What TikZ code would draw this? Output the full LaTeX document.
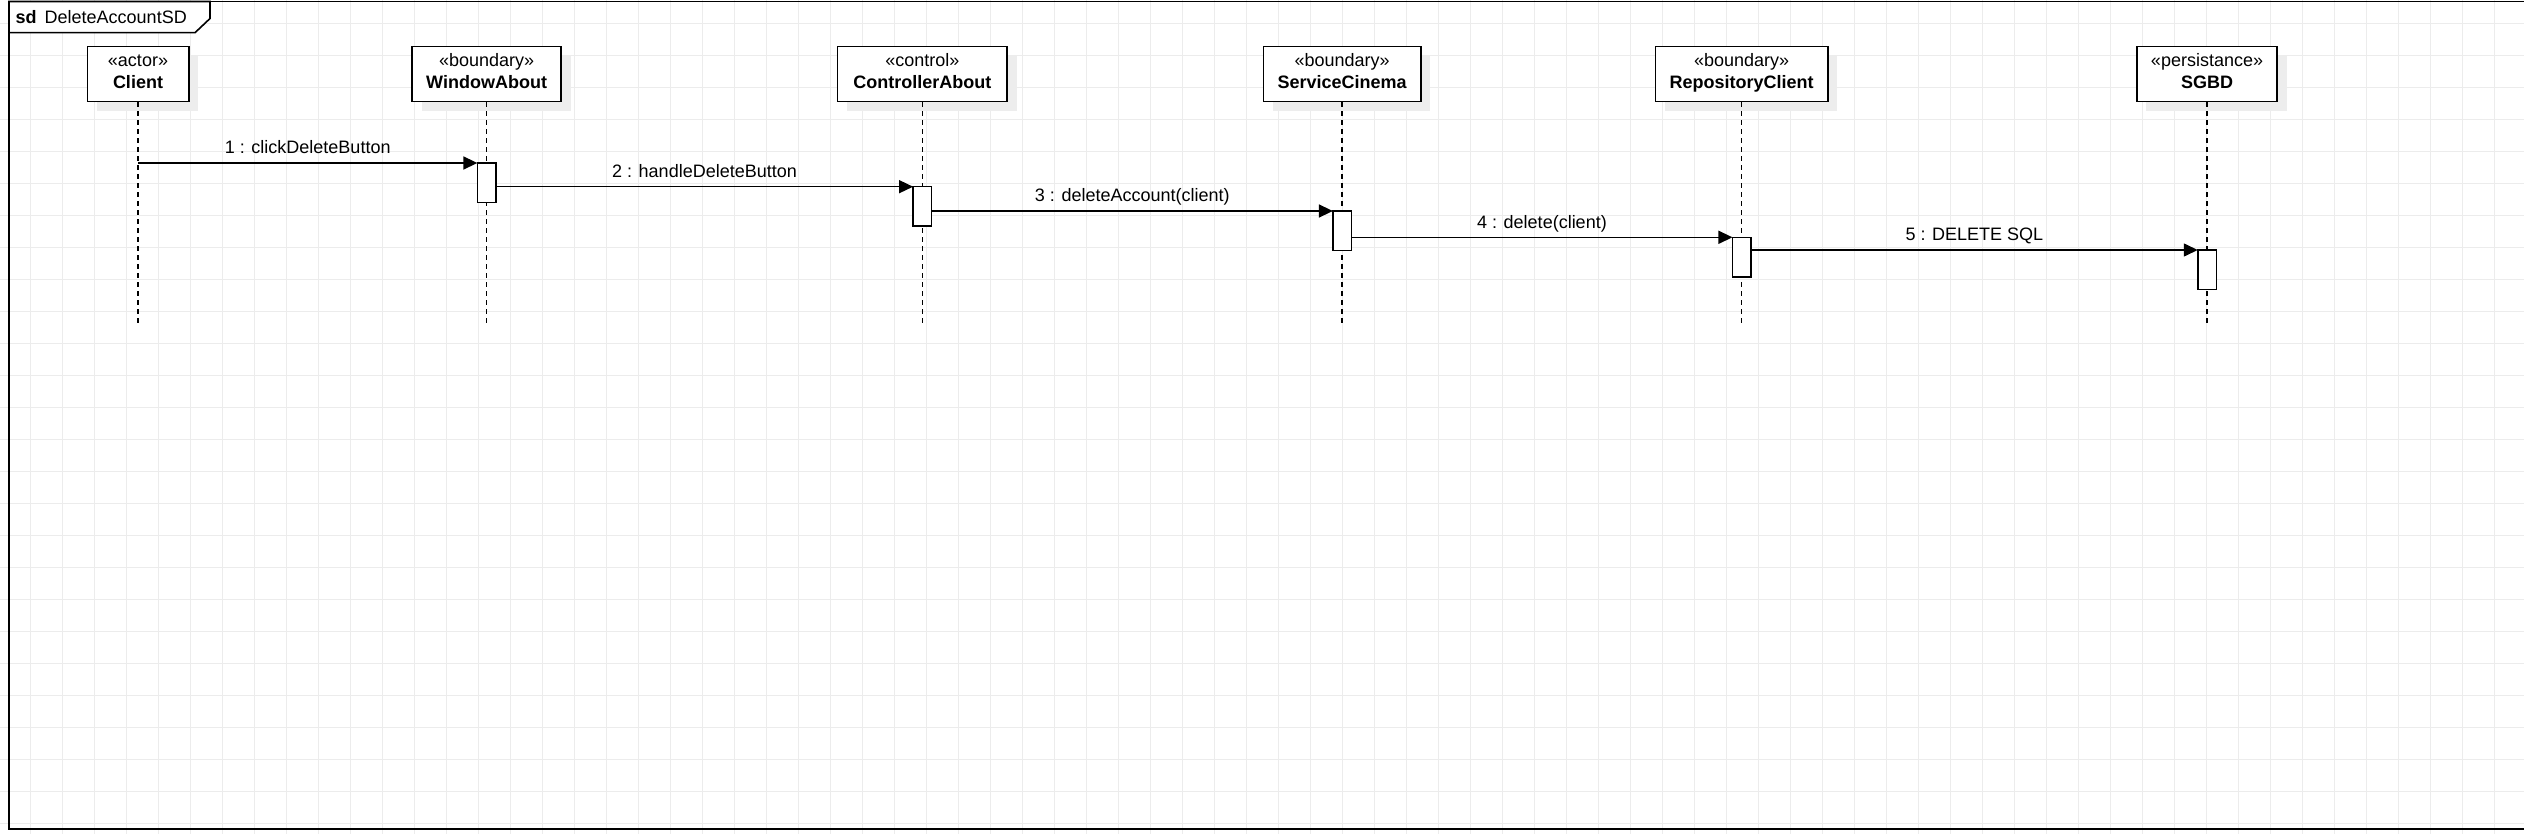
\documentclass[tikz,border=0pt]{standalone}
\usepackage{fontspec}
\setmainfont{Liberation Sans}
\usetikzlibrary{arrows.meta,shadows}
\definecolor{gridc}{RGB}{236,236,236}
\definecolor{shadc}{RGB}{237,237,237}
\newcommand{\objtext}[2]{\rule{0pt}{14pt}#1\\\textbf{#2}\rule[-7.5pt]{0pt}{7.5pt}}
\begin{document}
\begin{tikzpicture}[x=1pt,y=-1pt,
  lbl/.style={font=\fontsize{18}{21.5}\selectfont,inner sep=0pt},
  objbox/.style={draw=black,line width=1.6pt,fill=white,minimum height=55pt,inner sep=0pt,align=center,
    font=\fontsize{18}{21.5}\selectfont,
    drop shadow={shadow xshift=9.5pt,shadow yshift=-9.5pt,fill=shadc,opacity=1}},
  actbox/.style={draw=black,line width=1.5pt,fill=white,minimum width=18.5pt,minimum height=39.5pt,inner sep=0pt,outer sep=0pt,anchor=north},
  lifeline/.style={line width=1.5pt,dash pattern=on 5pt off 4pt},
  msg/.style={line width=1.5pt,-{Triangle[length=14pt,width=13pt]}},
  gridline/.style={gridc,line width=1pt}
  ]
\useasboundingbox (0,0) rectangle (2524,834);
\fill[white] (0,0) rectangle (2524,834);
% grid
\foreach \i in {0,...,77} \draw[gridline] ({30+32*\i},0) -- ({30+32*\i},834);
\foreach \j in {0,...,25} \draw[gridline] (0,{23.3+32*\j}) -- (2524,{23.3+32*\j});
% frame
\draw[line width=1.8pt] (2524,1.5) -- (9,1.5) -- (9,829) -- (2524,829);
\draw[line width=1.6pt,fill=white] (9,1.5) -- (210,1.5) -- (210,18.5) -- (195,32.7) -- (9,32.7) -- cycle;
\node[lbl,anchor=base west] (title) at (15.5,23.5) {\textbf{sd}\hspace{8pt}DeleteAccountSD};
% objects
\node[objbox,minimum width=101.4pt] (client) at (138,74.2) {\objtext{«actor»}{Client}};
\node[objbox,minimum width=149.2pt] (wa) at (486.6,74.2) {\objtext{«boundary»}{WindowAbout}};
\node[objbox,minimum width=169.8pt] (ca) at (922.3,74.2) {\objtext{«control»}{ControllerAbout}};
\node[objbox,minimum width=157.6pt] (sc) at (1342.1,74.2) {\objtext{«boundary»}{ServiceCinema}};
\node[objbox,minimum width=172.5pt] (rc) at (1741.7,74.2) {\objtext{«boundary»}{RepositoryClient}};
\node[objbox,minimum width=140.5pt] (db) at (2207,74.2) {\objtext{«persistance»}{SGBD}};
% lifeline ends
\coordinate (clientEnd) at (138,325);
\coordinate (waEnd) at (486.6,325);
\coordinate (caEnd) at (922.3,325);
\coordinate (scEnd) at (1342.1,325);
\coordinate (rcEnd) at (1741.7,325);
\coordinate (dbEnd) at (2207,325);
\draw[lifeline] (client.south) -- (clientEnd);
\draw[lifeline] (wa.south) -- (waEnd);
\draw[lifeline] (ca.south) -- (caEnd);
\draw[lifeline] (sc.south) -- (scEnd);
\draw[lifeline] (rc.south) -- (rcEnd);
\draw[lifeline] (db.south) -- (dbEnd);
% activations
\node[actbox] (aWA) at (486.6,163) {};
\node[actbox] (aCA) at (922.3,186.7) {};
\node[actbox] (aSC) at (1342.1,211) {};
\node[actbox] (aRC) at (1741.7,237.3) {};
\node[actbox] (aDB) at (2207,250) {};
% messages
\coordinate (m1) at (138,163);
\draw[msg] (m1) -- (aWA.north west) node[lbl,midway,anchor=base,yshift=9pt] (l1) {1 : clickDeleteButton};
\draw[msg] (aWA.east |- aCA.north) -- (aCA.north west) node[lbl,midway,anchor=base,yshift=9pt] (l2) {2 : handleDeleteButton};
\draw[msg] (aCA.east |- aSC.north) -- (aSC.north west) node[lbl,midway,anchor=base,yshift=9pt] (l3) {3 : deleteAccount(client)};
\draw[msg] (aSC.east |- aRC.north) -- (aRC.north west) node[lbl,midway,anchor=base,yshift=9pt] (l4) {4 : delete(client)};
\draw[msg] (aRC.east |- aDB.north) -- (aDB.north west) node[lbl,midway,anchor=base,yshift=9pt] (l5) {5 : DELETE SQL};
\end{tikzpicture}
\end{document}
